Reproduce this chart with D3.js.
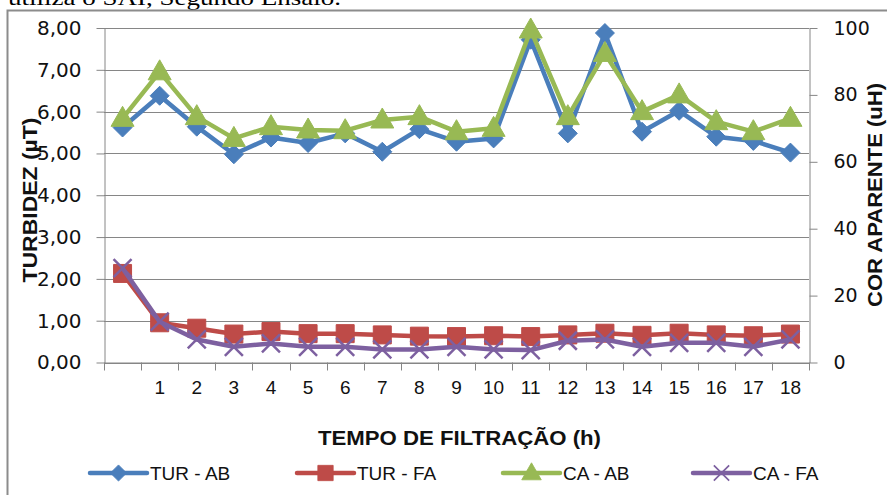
<!DOCTYPE html>
<html><head><meta charset="utf-8">
<script src="https://cdn.jsdelivr.net/npm/d3@7/dist/d3.min.js"></script>
<style>body{margin:0;background:#fff;overflow:hidden}</style>
</head><body>
<svg id="c" width="887" height="495"></svg>
<script>
const categories = ["", "1","2","3","4","5","6","7","8","9","10","11","12","13","14","15","16","17","18"];
const turAB = [5.62, 6.38, 5.64, 4.98, 5.38, 5.25, 5.48, 5.04, 5.58, 5.28, 5.36, 7.72, 5.48, 7.88, 5.52, 6.02, 5.40, 5.30, 5.02];
const turFA = [2.13, 0.95, 0.82, 0.68, 0.74, 0.69, 0.69, 0.66, 0.63, 0.62, 0.64, 0.62, 0.66, 0.70, 0.65, 0.70, 0.66, 0.64, 0.68];
const caAB  = [73.0, 86.9, 73.5, 67.0, 70.5, 69.5, 69.3, 72.5, 73.5, 69.0, 70.0, 99.4, 73.5, 92.4, 75.0, 80.0, 72.0, 69.0, 73.0];
const caFA  = [28.2, 12.2, 6.9, 4.7, 5.7, 4.7, 4.7, 3.9, 3.9, 4.7, 3.9, 3.7, 6.5, 6.9, 4.7, 5.9, 5.9, 4.7, 6.9];
const leftTicks = [0,1,2,3,4,5,6,7,8];
const rightTicks = [0,20,40,60,80,100];
const seriesNames = ["TUR - AB", "TUR - FA", "CA - AB", "CA - FA"];
const caption = "utiliza o SAI, Segundo Ensaio.";
const xTitle = "TEMPO DE FILTRAÇÃO (h)";
const yLeftTitle = "TURBIDEZ (µT)";
const yRightTitle = "COR APARENTE (uH)";

const svg = d3.select("#c");
const axisColor = "#868686";
const colors = {blue:"#4A7EBB", red:"#BE4B48", green:"#98B954", purple:"#7D60A0"};
const narrow = "'Liberation Sans',Arial,sans-serif";

// caption (cut off at top, as in the source page) and outer frame
svg.append("text").attr("x", 8).attr("y", 5)
  .attr("font-family", "'Liberation Serif','Times New Roman',serif").attr("font-size", 22)
  .attr("textLength", 333).attr("lengthAdjust", "spacingAndGlyphs").text(caption);
svg.append("path").attr("d", "M7.5,495 V10.5 H887").attr("fill","none")
  .attr("stroke", "#8c8c8c").attr("stroke-width", 2);

const L = 104, R = 809, T = 28, B = 362.5;
const x = d3.scaleBand().domain(d3.range(categories.length)).range([L, R]);
const cx = i => x(i) + x.bandwidth()/2;
const yL = d3.scaleLinear().domain([0, 8]).range([B, T]);
const yR = d3.scaleLinear().domain([0, 100]).range([B, T]);

// gridlines
svg.append("g").selectAll("line").data(leftTicks).join("line")
  .attr("x1", L).attr("x2", R).attr("y1", d => Math.round(yL(d))+0.5).attr("y2", d => Math.round(yL(d))+0.5)
  .attr("stroke", axisColor).attr("stroke-width", 1);

// left axis
const gl = svg.append("g").attr("transform", `translate(${L+0.5},0)`)
  .call(d3.axisLeft(yL).tickValues(leftTicks).tickSize(8).tickSizeOuter(0).tickPadding(15)
    .tickFormat(d => d3.format(".2f")(d).replace(".", ",")));
gl.selectAll("line,path").attr("stroke", axisColor);
gl.selectAll("text").attr("font-family", "'DejaVu Sans',sans-serif").attr("font-size", 20).attr("fill", "#111");

// right axis
const gr = svg.append("g").attr("transform", `translate(${R+0.5},0)`)
  .call(d3.axisRight(yR).tickValues(rightTicks).tickSize(8).tickSizeOuter(0).tickPadding(16));
gr.selectAll("line,path").attr("stroke", axisColor);
gr.selectAll("text").attr("font-family", "'DejaVu Sans',sans-serif").attr("font-size", 19).attr("fill", "#111");

// x axis
const gx = svg.append("g").attr("transform", `translate(0,${B})`)
  .call(d3.axisBottom(x).tickSize(0).tickSizeOuter(0).tickPadding(0).tickFormat(i => categories[i]));
gx.select("path").attr("stroke", axisColor);
gx.selectAll("text").attr("y", 31).attr("dy", 0).attr("font-family", narrow).attr("font-size", 19).attr("fill", "#111");
svg.append("g").selectAll("line").data(d3.range(categories.length + 1)).join("line")
  .attr("x1", i => Math.round(i < categories.length ? x(i) : R)+0.5)
  .attr("x2", i => Math.round(i < categories.length ? x(i) : R)+0.5)
  .attr("y1", B).attr("y2", B + 8).attr("stroke", axisColor);

// axis titles
svg.append("text").attr("x", (L+R)/2 + 3).attr("y", 445).attr("text-anchor", "middle")
  .attr("font-family", narrow).attr("font-weight", "bold").attr("font-size", 20)
  .attr("textLength", 283).attr("lengthAdjust", "spacingAndGlyphs").attr("fill", "#111").text(xTitle);
svg.append("text").attr("transform", "translate(37,200) rotate(-90)").attr("text-anchor", "middle")
  .attr("font-family", narrow).attr("font-weight", "bold").attr("font-size", 21)
  .attr("textLength", 165).attr("lengthAdjust", "spacingAndGlyphs").attr("fill", "#111").text(yLeftTitle);
svg.append("text").attr("transform", "translate(882,195) rotate(-90)").attr("text-anchor", "middle")
  .attr("font-family", narrow).attr("font-weight", "bold").attr("font-size", 20)
  .attr("textLength", 224).attr("lengthAdjust", "spacingAndGlyphs").attr("fill", "#111").text(yRightTitle);

// marker shapes
const shapes = {
  diamond: "M0,-9.5 L9.5,0 L0,9.5 L-9.5,0 Z",
  square: "M-9,-9 H9 V9 H-9 Z",
  triangle: "M0,-12 L11.5,8 L-11.5,8 Z",
  x: "M-9,-9 L9,9 M-9,9 L9,-9"
};

function drawSeries(values, y, color, shape) {
  const line = d3.line().x((d, i) => cx(i)).y(d => y(d));
  const g = svg.append("g");
  g.append("path").datum(values).attr("d", line).attr("fill", "none")
    .attr("stroke", color).attr("stroke-width", 4.5).attr("stroke-linejoin", "round");
  g.selectAll("path.m").data(values).join("path").attr("class", "m")
    .attr("transform", (d, i) => `translate(${cx(i)},${y(d)})`)
    .attr("d", shapes[shape])
    .attr("fill", shape === "x" ? "none" : color)
    .attr("stroke", color).attr("stroke-width", shape === "x" ? 2.5 : 1);
}
drawSeries(turAB, yL, colors.blue, "diamond");
drawSeries(turFA, yL, colors.red, "square");
drawSeries(caAB, yR, colors.green, "triangle");
drawSeries(caFA, yR, colors.purple, "x");

// legend
const legend = [
  {name: seriesNames[0], color: colors.blue, shape: "diamond", x0: 90},
  {name: seriesNames[1], color: colors.red, shape: "square", x0: 297},
  {name: seriesNames[2], color: colors.green, shape: "triangle", x0: 503},
  {name: seriesNames[3], color: colors.purple, shape: "x", x0: 693}
];
const ly = 473;
const lg = svg.append("g").selectAll("g").data(legend).join("g")
  .attr("transform", d => `translate(${d.x0},${ly})`);
lg.append("line").attr("x1", 0).attr("x2", 57).attr("y1", 0).attr("y2", 0)
  .attr("stroke", d => d.color).attr("stroke-width", 4.5).attr("stroke-linecap", "round");
lg.append("path").attr("transform", "translate(28.5,0) scale(0.85)")
  .attr("d", d => shapes[d.shape])
  .attr("fill", d => d.shape === "x" ? "none" : d.color)
  .attr("stroke", d => d.color).attr("stroke-width", d => d.shape === "x" ? 2 : 1);
lg.append("text").attr("x", 60).attr("y", 7).attr("font-family", narrow).attr("font-size", 19)
  .attr("fill", "#111").text(d => d.name);
</script>
</body></html>
